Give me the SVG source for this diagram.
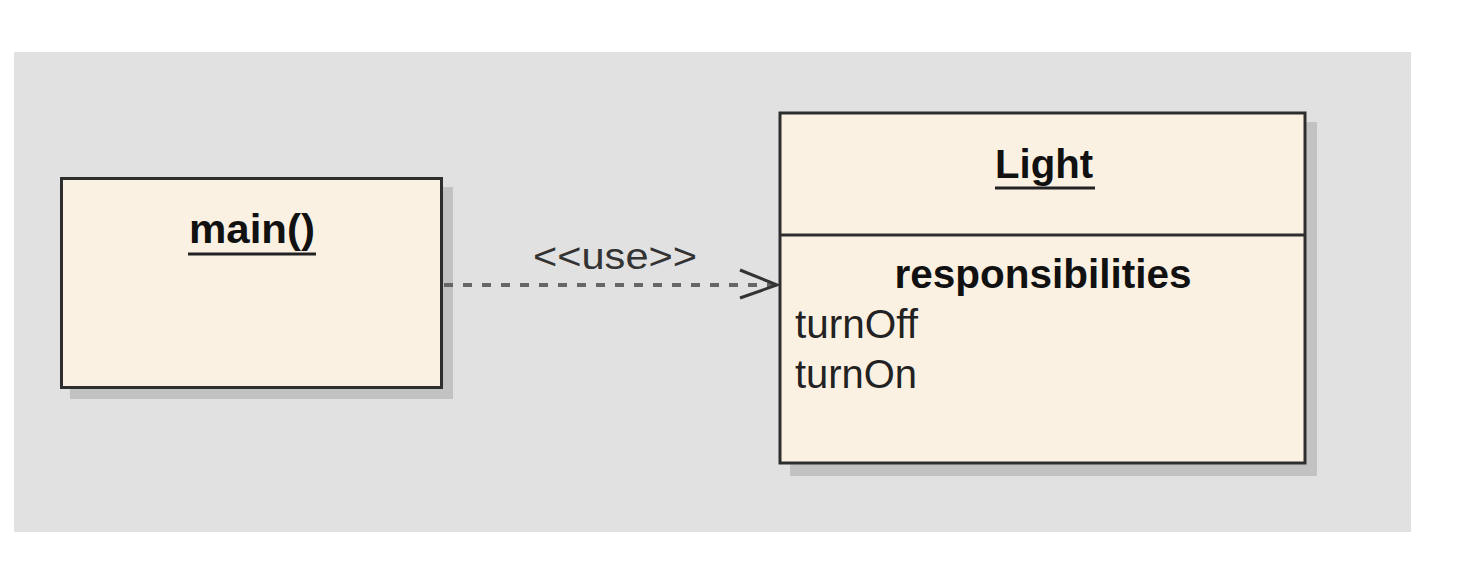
<svg xmlns="http://www.w3.org/2000/svg" width="1466" height="564" viewBox="0 0 1466 564">
<style>
.shadow{fill:#c2c2c2;}
.box{fill:#fbf1e3;stroke:#2e2e2e;stroke-width:3;}
.title{font-family:"Liberation Sans",Arial,sans-serif;font-weight:bold;font-size:40px;fill:#111;text-anchor:middle;}
.item{font-family:"Liberation Sans",Arial,sans-serif;font-size:40px;fill:#222;}
.ul{stroke:#222;stroke-width:3;}
.dep{stroke:#666;stroke-width:4;stroke-dasharray:9 10;fill:none;}
.head{stroke:#333;stroke-width:3;fill:none;}
.lbl{font-family:"Liberation Sans",Arial,sans-serif;font-size:36px;fill:#333;text-anchor:middle;}
</style>
<rect x="0" y="0" width="1466" height="564" fill="#ffffff"/>
<rect x="14" y="52" width="1397" height="480" fill="#e1e1e1"/>
<g id="main">
<rect class="shadow" x="70" y="187" width="383" height="212"/>
<rect class="box" x="61.5" y="178.5" width="380" height="209"/>
<text class="title" x="252" y="243" textLength="126" lengthAdjust="spacingAndGlyphs">main()</text>
<line class="ul" x1="188" y1="254" x2="316" y2="254"/>
</g>
<g id="light">
<rect class="shadow" x="790" y="122" width="527" height="354"/>
<rect class="box" x="780" y="113" width="525" height="350"/>
<line stroke="#2e2e2e" stroke-width="3" x1="780" y1="235" x2="1305" y2="235"/>
<text class="title" x="1044" y="178" textLength="98" lengthAdjust="spacingAndGlyphs">Light</text>
<line class="ul" x1="995" y1="188" x2="1095" y2="188"/>
<text class="title" x="1043" y="288" textLength="297" lengthAdjust="spacingAndGlyphs">responsibilities</text>
<text class="item" x="795" y="338" textLength="123" lengthAdjust="spacingAndGlyphs">turnOff</text>
<text class="item" x="795" y="388" textLength="122" lengthAdjust="spacingAndGlyphs">turnOn</text>
</g>
<g id="connectors">
<line class="dep" x1="444" y1="285" x2="776" y2="285"/>
<polyline class="head" points="740,270 777,285 740,298"/>
<text class="lbl" x="615" y="269" textLength="164" lengthAdjust="spacingAndGlyphs">&lt;&lt;use&gt;&gt;</text>
</g>
</svg>
